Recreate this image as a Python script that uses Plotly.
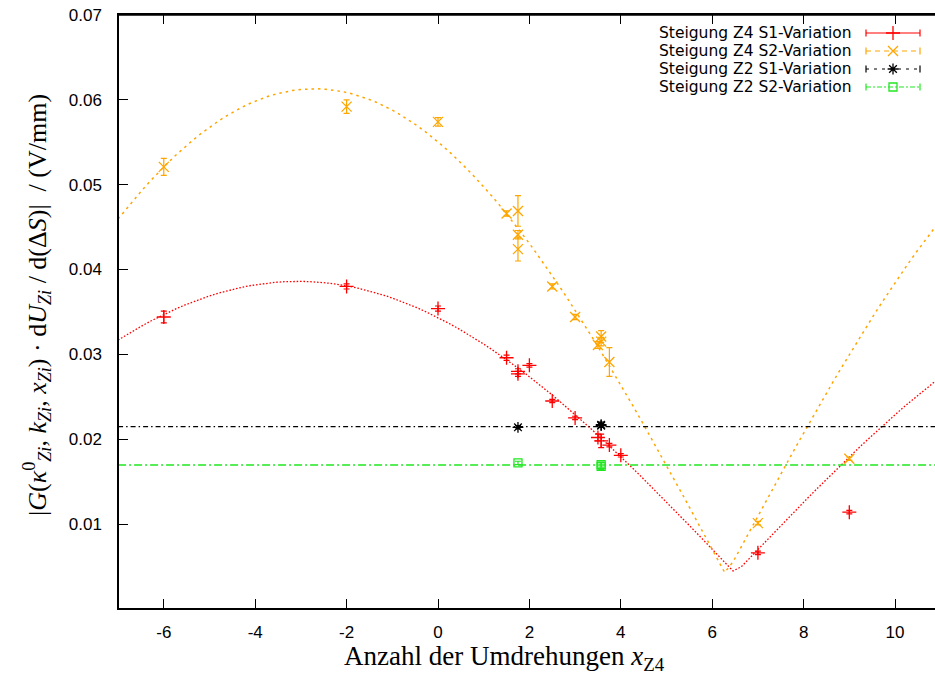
import numpy as np
import plotly.graph_objects as go

# ---- measured slopes (V/mm) vs. number of turns of Z4 ----
z4s1_x = [-6, -2, 0, 1.5, 1.75, 1.75, 2, 2.5, 3, 3.5, 3.57, 3.75, 4, 7, 9]
z4s1_y = [0.0344, 0.0380, 0.0354, 0.0296, 0.0280, 0.0277, 0.0287, 0.0245,
          0.0225, 0.0202, 0.0198, 0.0193, 0.0181, 0.0066, 0.0114]
z4s1_err = [0.0007, 0.0003, 0.0003, 0.0003, 0.0003, 0.0003, 0.0002, 0.0002,
            0.0002, 0.0004, 0.0008, 0.0002, 0.0002, 0.0002, 0.0002]

z4s2_x = [-6, -2, 0, 1.5, 1.75, 1.75, 1.75, 2.5, 3, 3.5, 3.57, 3.57, 3.75, 7, 9]
z4s2_y = [0.0521, 0.0592, 0.0574, 0.0466, 0.0469, 0.0441, 0.0424, 0.0380,
          0.0344, 0.0311, 0.0321, 0.0315, 0.0291, 0.0101, 0.0177]
z4s2_err = [0.0010, 0.0008, 0.0005, 0.0003, 0.0018, 0.0005, 0.0014, 0.0003,
            0.0003, 0.0004, 0.0007, 0.0005, 0.0017, 0.0002, 0.0002]

z2s1_x = [1.75, 3.57, 3.57]
z2s1_y = [0.0214, 0.0217, 0.0216]
z2s1_err = [0.0002, 0.0003, 0.0002]

z2s2_x = [1.75, 3.57, 3.57]
z2s2_y = [0.0172, 0.0170, 0.0168]
z2s2_err = [0.0002, 0.0003, 0.0004]

# ---- fit results ----
# Z4: f(x) = A*|cos(k*(x - x0))| + c ; Z2: constant
fit_z4s1 = dict(A=0.0344, k=0.1641, x0=-3.07, c=0.0042)
fit_z4s2 = dict(A=0.0573, k=0.1744, x0=-2.705, c=0.0040)
fit_z2s1 = 0.02147
fit_z2s2 = 0.01695

series_names = ["Steigung Z4 S1-Variation", "Steigung Z4 S2-Variation",
                "Steigung Z2 S1-Variation", "Steigung Z2 S2-Variation"]

x_ticks = [-6, -4, -2, 0, 2, 4, 6, 8, 10]
y_ticks = [0.01, 0.02, 0.03, 0.04, 0.05, 0.06, 0.07]

RED = "#ff0000"
ORANGE = "#ffa500"
BLACK = "#000000"
GREEN = "#22e622"

X_RANGE = [-6.98, 10.875]
Y_RANGE = [0.0001, 0.07]

W, H = 935, 677
ML, MR, MT, MB = 119, 0, 15, 69
PW, PH = W - ML - MR, H - MT - MB


def fz4(x, p):
    return p["A"] * np.abs(np.cos(p["k"] * (x - p["x0"]))) + p["c"]


xs = np.linspace(-7, 11, 100)

fig = go.Figure()

# fit curves
fig.add_trace(go.Scatter(x=xs, y=fz4(xs, fit_z4s1), mode="lines",
                         line=dict(color=RED, width=1.3, dash="1.6px,1.8px"),
                         showlegend=False, hoverinfo="skip"))
fig.add_trace(go.Scatter(x=xs, y=fz4(xs, fit_z4s2), mode="lines",
                         line=dict(color=ORANGE, width=1.5, dash="2.5px,4px"),
                         showlegend=False, hoverinfo="skip"))
fig.add_trace(go.Scatter(x=[-7, 11], y=[fit_z2s1, fit_z2s1], mode="lines",
                         line=dict(color=BLACK, width=1.2, dash="5px,3px,1.5px,3px"),
                         showlegend=False, hoverinfo="skip"))
fig.add_trace(go.Scatter(x=[-7, 11], y=[fit_z2s2, fit_z2s2], mode="lines",
                         line=dict(color=GREEN, width=1.5, dash="8px,3px,2px,3px"),
                         showlegend=False, hoverinfo="skip"))

# data with error bars
styles = [
    (z4s1_x, z4s1_y, z4s1_err, RED, "cross-thin", 10),
    (z4s2_x, z4s2_y, z4s2_err, ORANGE, "x-thin", 10),
    (z2s1_x, z2s1_y, z2s1_err, BLACK, "asterisk", 9),
    (z2s2_x, z2s2_y, z2s2_err, GREEN, "square-open", 8),
]
for (sx, sy, se, col, sym, size), name in zip(styles, series_names):
    fig.add_trace(go.Scatter(
        x=sx, y=sy, mode="markers", name=name, showlegend=False,
        marker=dict(symbol=sym, size=size, color=col,
                    line=dict(color=col, width=1.3)),
        error_y=dict(type="data", array=se, visible=True, color=col,
                     thickness=1.2, width=3),
    ))

# ---- key (top right), drawn on an overlay axis in pixel-like units ----
def px2x(px):
    return (px - ML) / PW


def py2y(py):
    return (H - MB - py) / PH


key_rows = [33, 51, 69, 87]
key_dash = ["solid", "5px,4px", "3px,5px", "5px,2px,2px,2px"]
x_a, x_b, x_m, x_txt = 866, 920, 893, 853
cap = 3.5
for (sx, sy, se, col, sym, size), name, ry, dash in zip(styles, series_names, key_rows, key_dash):
    fig.add_trace(go.Scatter(
        x=[px2x(x_a), px2x(x_b)], y=[py2y(ry), py2y(ry)], mode="lines",
        line=dict(color=col, width=1.2, dash=dash),
        xaxis="x2", yaxis="y2", showlegend=False, hoverinfo="skip"))
    fig.add_trace(go.Scatter(
        x=[px2x(x_a), px2x(x_a), None, px2x(x_b), px2x(x_b)],
        y=[py2y(ry - cap), py2y(ry + cap), None, py2y(ry - cap), py2y(ry + cap)],
        mode="lines", line=dict(color=col, width=1.2),
        xaxis="x2", yaxis="y2", showlegend=False, hoverinfo="skip"))
    fig.add_trace(go.Scatter(
        x=[px2x(x_m)], y=[py2y(ry)], mode="markers",
        marker=dict(symbol=sym, size=size, color=col, line=dict(color=col, width=1.3)),
        xaxis="x2", yaxis="y2", showlegend=False, hoverinfo="skip"))
    fig.add_annotation(text=name, xref="paper", yref="paper",
                       x=px2x(x_txt), y=py2y(ry), xanchor="right", yanchor="middle",
                       height=18, valign="middle", borderpad=0,
                       showarrow=False,
                       font=dict(family="DejaVu Sans, Verdana, sans-serif",
                                 size=15.5, color="black"))

# axis labels
serif = "Liberation Serif, Times New Roman, serif"
ylab = ("|<i>G</i>(<i>κ</i><sup>0</sup><sub><i>Zi</i></sub>, "
        "<i>k</i><sub><i>Zi</i></sub>, <i>x</i><sub><i>Zi</i></sub>) · "
        "d<i>U</i><sub><i>Zi</i></sub> / d(Δ<i>S</i>)|  / (V/mm)")
fig.add_annotation(text=ylab, xref="paper", yref="paper",
                   x=px2x(37), y=py2y(305), xanchor="center", yanchor="middle",
                   textangle=-90, showarrow=False,
                   font=dict(family=serif, size=26, color="black"))

xlab = "Anzahl der Umdrehungen <i>x</i><sub>Z4</sub>"
fig.add_annotation(text=xlab, xref="paper", yref="paper",
                   x=px2x(504), y=py2y(658), xanchor="center", yanchor="middle",
                   showarrow=False,
                   font=dict(family=serif, size=27, color="black"))

tick_font = dict(family="Liberation Sans, Arial, sans-serif", size=17, color="black")

fig.update_layout(
    width=W, height=H,
    margin=dict(l=ML, r=MR, t=MT, b=MB, pad=0),
    paper_bgcolor="white", plot_bgcolor="white",
    showlegend=False,
    xaxis=dict(range=X_RANGE, tickvals=x_ticks, ticktext=[str(v) for v in x_ticks],
               ticks="inside", ticklen=9, tickwidth=1, tickcolor="black",
               showline=True, linecolor="black", linewidth=1.5, mirror="ticks",
               showgrid=False, zeroline=False, tickfont=tick_font,
               ticklabelstandoff=8),
    yaxis=dict(range=Y_RANGE, tickvals=y_ticks, ticktext=[f"{v:.2f}" for v in y_ticks],
               ticks="inside", ticklen=9, tickwidth=1, tickcolor="black",
               showline=True, linecolor="black", linewidth=1.5, mirror=False,
               showgrid=False, zeroline=False, tickfont=tick_font,
               ticklabelstandoff=12),
    xaxis2=dict(overlaying="x", range=[0, 1], visible=False, anchor="y2"),
    yaxis2=dict(overlaying="y", range=[0, 1], visible=False, anchor="x2"),
)

# top frame line
fig.add_shape(type="line", xref="paper", yref="paper", x0=0, x1=1, y0=1, y1=1,
              line=dict(color="black", width=1.5))

fig.write_html("out.html")
